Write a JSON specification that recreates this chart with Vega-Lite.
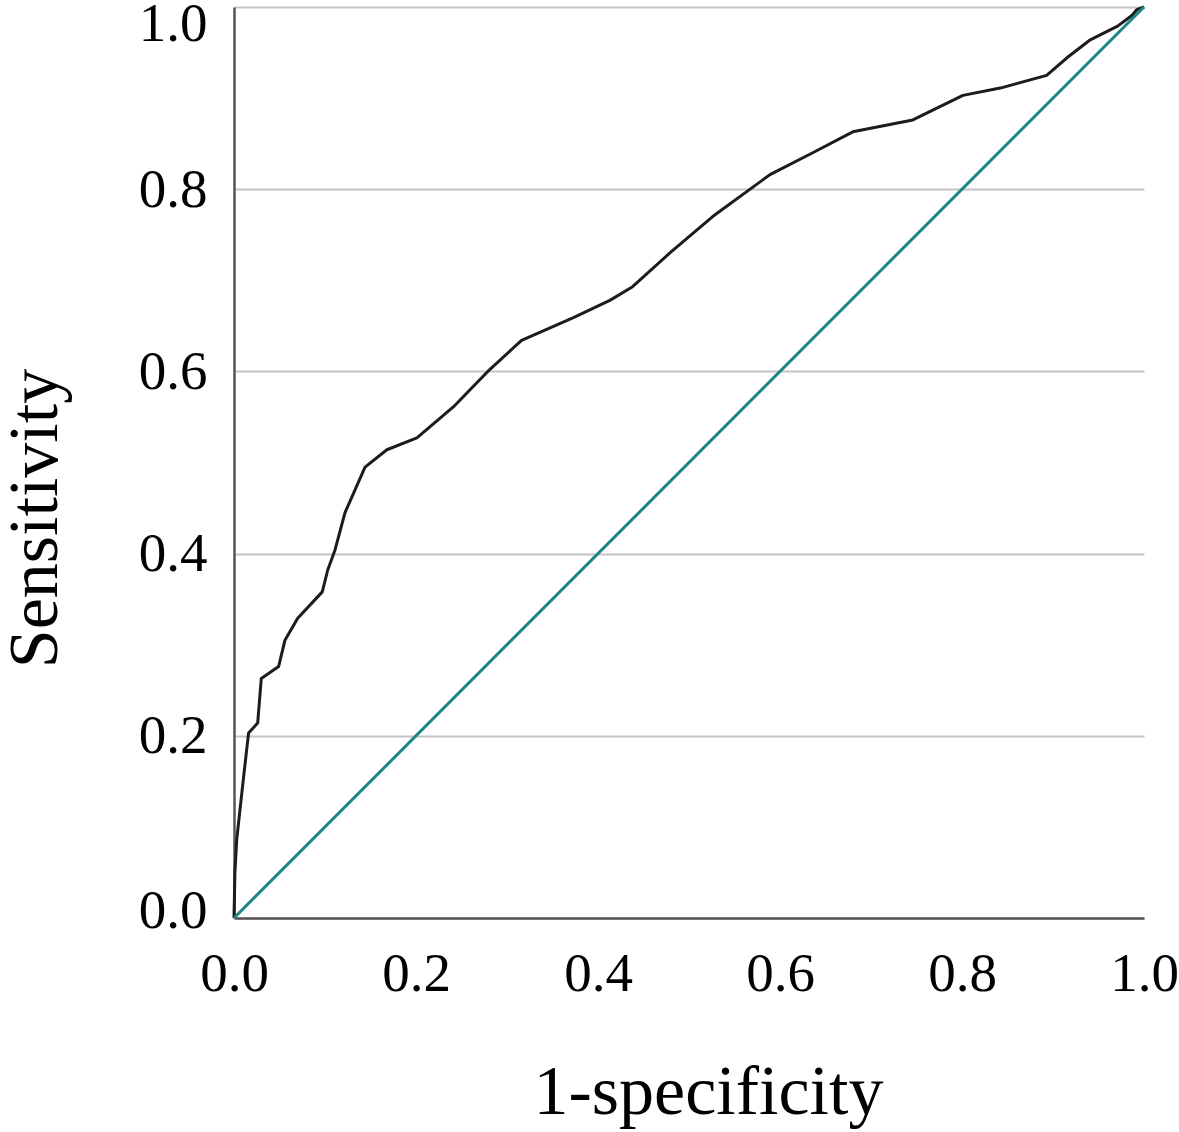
{
  "$schema": "https://vega.github.io/schema/vega-lite/v6.json",
  "width": 910,
  "height": 911,
  "autosize": {"type": "none"},
  "padding": {"left": 234, "top": 7, "right": 35, "bottom": 214},
  "background": "white",
  "config": {"view": {"stroke": null}, "font": "Liberation Serif"},
  "data": {"values": [
    {"s": "roc", "fpr": 0, "tpr": 0},
    {"s": "roc", "fpr": 0.001, "tpr": 0.05},
    {"s": "roc", "fpr": 0.003, "tpr": 0.086},
    {"s": "roc", "fpr": 0.01, "tpr": 0.15},
    {"s": "roc", "fpr": 0.016, "tpr": 0.203},
    {"s": "roc", "fpr": 0.026, "tpr": 0.214},
    {"s": "roc", "fpr": 0.03, "tpr": 0.263},
    {"s": "roc", "fpr": 0.049, "tpr": 0.276},
    {"s": "roc", "fpr": 0.056, "tpr": 0.305},
    {"s": "roc", "fpr": 0.07, "tpr": 0.329},
    {"s": "roc", "fpr": 0.097, "tpr": 0.358},
    {"s": "roc", "fpr": 0.103, "tpr": 0.382},
    {"s": "roc", "fpr": 0.111, "tpr": 0.404},
    {"s": "roc", "fpr": 0.122, "tpr": 0.445},
    {"s": "roc", "fpr": 0.144, "tpr": 0.495},
    {"s": "roc", "fpr": 0.168, "tpr": 0.514},
    {"s": "roc", "fpr": 0.201, "tpr": 0.527},
    {"s": "roc", "fpr": 0.241, "tpr": 0.561},
    {"s": "roc", "fpr": 0.281, "tpr": 0.602},
    {"s": "roc", "fpr": 0.316, "tpr": 0.634},
    {"s": "roc", "fpr": 0.373, "tpr": 0.659},
    {"s": "roc", "fpr": 0.413, "tpr": 0.678},
    {"s": "roc", "fpr": 0.438, "tpr": 0.693},
    {"s": "roc", "fpr": 0.479, "tpr": 0.73},
    {"s": "roc", "fpr": 0.526, "tpr": 0.77},
    {"s": "roc", "fpr": 0.589, "tpr": 0.816},
    {"s": "roc", "fpr": 0.636, "tpr": 0.84},
    {"s": "roc", "fpr": 0.68, "tpr": 0.863},
    {"s": "roc", "fpr": 0.746, "tpr": 0.876},
    {"s": "roc", "fpr": 0.801, "tpr": 0.903},
    {"s": "roc", "fpr": 0.842, "tpr": 0.911},
    {"s": "roc", "fpr": 0.893, "tpr": 0.925},
    {"s": "roc", "fpr": 0.915, "tpr": 0.944},
    {"s": "roc", "fpr": 0.941, "tpr": 0.964},
    {"s": "roc", "fpr": 0.971, "tpr": 0.979},
    {"s": "roc", "fpr": 0.987, "tpr": 0.991},
    {"s": "roc", "fpr": 0.992, "tpr": 0.997},
    {"s": "roc", "fpr": 1, "tpr": 1},
    {"s": "ref", "fpr": 0, "tpr": 0},
    {"s": "ref", "fpr": 1, "tpr": 1}
  ]},
  "mark": {"type": "line", "strokeWidth": 3, "clip": false, "strokeJoin": "round"},
  "encoding": {
    "x": {
      "field": "fpr", "type": "quantitative",
      "scale": {"domain": [0, 1], "nice": false, "zero": false},
      "axis": {
        "title": "1-specificity",
        "values": [0, 0.2, 0.4, 0.6, 0.8, 1.0],
        "format": ".1f",
        "grid": false,
        "ticks": false,
        "domainColor": "#555555",
        "domainWidth": 2.5,
        "labelFont": "Liberation Serif",
        "labelFontSize": 55,
        "labelColor": "#000000",
        "labelBaseline": "alphabetic",
        "labelPadding": 72,
        "labelFlush": false,
        "labelOverlap": false,
        "titleFont": "Liberation Serif",
        "titleFontSize": 70,
        "titleFontWeight": "normal",
        "titleColor": "#000000",
        "titleBaseline": "alphabetic",
        "titleX": 474,
        "titleY": 195
      }
    },
    "y": {
      "field": "tpr", "type": "quantitative",
      "scale": {"domain": [0, 1], "nice": false, "zero": false},
      "axis": {
        "title": "Sensitivity",
        "values": [0, 0.2, 0.4, 0.6, 0.8, 1.0],
        "format": ".1f",
        "grid": true,
        "gridColor": "#c4c4c4",
        "gridWidth": 2,
        "ticks": false,
        "domainColor": "#555555",
        "domainWidth": 2.5,
        "labelFont": "Liberation Serif",
        "labelFontSize": 55,
        "labelColor": "#000000",
        "labelPadding": 27,
        "labelFlush": false,
        "labelOverlap": false,
        "labelBaseline": "middle",
        "labelOffset": {"condition": [{"test": "datum.value == 1", "value": 16}, {"test": "datum.value == 0", "value": -8}], "value": 0},
        "titleFont": "Liberation Serif",
        "titleFontSize": 70,
        "titleFontWeight": "normal",
        "titleColor": "#000000",
        "titleBaseline": "alphabetic",
        "titleAngle": -90,
        "titleX": -178,
        "titleY": 511
      }
    },
    "color": {
      "field": "s", "type": "nominal",
      "scale": {"domain": ["roc", "ref"], "range": ["#1c1c1c", "#1e8484"]},
      "legend": null
    }
  }
}
